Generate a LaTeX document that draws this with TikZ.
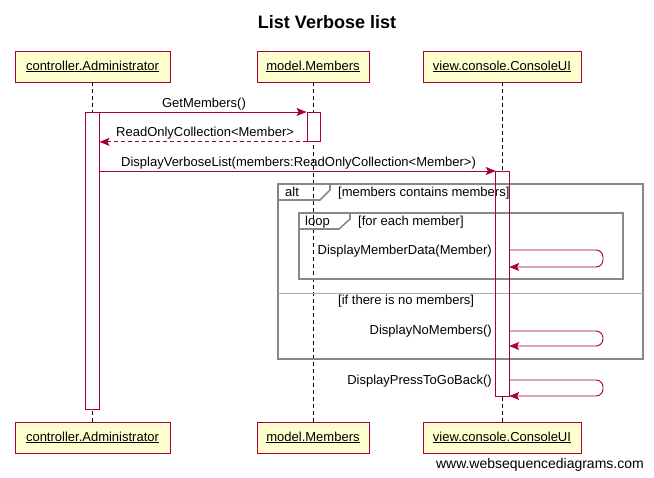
\documentclass[tikz,border=0pt]{standalone}
\usepackage{fontspec}
\setmainfont{Liberation Sans}
\usetikzlibrary{arrows.meta}
\definecolor{crim}{HTML}{A80036}
\definecolor{boxfill}{HTML}{FEFECE}
\definecolor{framec}{HTML}{888888}
\tikzset{
  part/.style={draw=crim, fill=boxfill, line width=0.9pt, minimum height=31pt, inner sep=0pt, font=\fontsize{13}{15}\selectfont},
  life/.style={line width=0.9pt, dash pattern=on 4pt off 3pt},
  act/.style={draw=crim, fill=white, line width=0.9pt, inner sep=0pt},
  actfill/.style={fill=white, inner sep=0pt},
  msg/.style={draw=crim, line width=0.9pt, -{Stealth[length=10pt,width=8pt,inset=2pt]}},
  ret/.style={msg, dash pattern=on 4pt off 3pt},
  lbl/.style={font=\fontsize{13}{15}\selectfont, inner sep=0pt},
  fr/.style={draw=framec, line width=1.6pt},
}
\begin{document}
\begin{tikzpicture}[x=1pt,y=-1pt]
\useasboundingbox (0,0) rectangle (654,478);
% title
\node[font=\fontsize{18}{20}\selectfont\bfseries, anchor=base, inner sep=0pt] (title) at (327,29) {List Verbose list};
% participants
\node[part, minimum width=155pt] (a1) at (92.5,66.5) {\underline{controller.Administrator}};
\node[part, minimum width=112pt] (m1) at (313,66.5) {\underline{model.Members}};
\node[part, minimum width=158pt] (c1) at (502,66.5) {\underline{view.console.ConsoleUI}};
\node[part, minimum width=155pt] (a2) at (92.5,437.5) {\underline{controller.Administrator}};
\node[part, minimum width=112pt] (m2) at (313,437.5) {\underline{model.Members}};
\node[part, minimum width=158pt] (c2) at (502,437.5) {\underline{view.console.ConsoleUI}};
% lifelines
\draw[life] (92,82) -- (92,422);
\draw[life] (m1.south) -- (m2.north);
\draw[life] (c1.south) -- (c2.north);
% activations
\node[act, minimum width=14pt, minimum height=297pt, anchor=north] (aa) at (92,112) {};
\node[act, minimum width=13pt, minimum height=29pt, anchor=north] (ma) at (313.5,112) {};
\node[actfill, minimum width=13pt, minimum height=225pt, anchor=north] (ca) at (502.5,171) {};
% frames
\draw[fr] (278,184) rectangle (643,359);
\draw[fr] (278,200) -- (320,200) -- (330,190) -- (330,184);
\node[lbl, anchor=base west] (altl) at (285,197) {alt};
\node[lbl, anchor=base west] (altg) at (338,197) {[members contains members]};
\draw[draw=framec!70, line width=0.8pt] (278,293) -- (643,293);
\node[lbl, anchor=base west] (altg2) at (338,305) {[if there is no members]};
\draw[fr] (299,213) rectangle (623,279);
\draw[fr] (299,229) -- (339,229) -- (350,219) -- (350,213);
\node[lbl, anchor=base west] (loopl) at (305,226) {loop};
\node[lbl, anchor=base west] (loopg) at (358,226) {[for each member]};
\draw[draw=crim, line width=0.9pt] (ca.north west) rectangle (ca.south east);
% messages
\draw[msg] (aa.north east) -- (ma.north west);
\node[lbl, anchor=base] (l1) at (204,108) {GetMembers()};
\draw[ret] (ma.south west) -- (aa.east |- ma.south west);
\node[lbl, anchor=base west] (l2) at (116,137) {ReadOnlyCollection<Member>};
\draw[msg] (aa.east |- ca.north west) -- (ca.north west);
\node[lbl, anchor=base west] (l3) at (121,167) {DisplayVerboseList(members:ReadOnlyCollection<Member>)};
% self messages
\coordinate (s1a) at (603,250);
\coordinate (s1b) at (603,267);
\draw[msg, rounded corners=7pt] (ca.east |- s1a) -- (s1a) -- (s1b) -- (ca.east |- s1b);
\node[lbl, anchor=base east] (l4) at (492,255) {DisplayMemberData(Member)};
\coordinate (s2a) at (603,331);
\coordinate (s2b) at (603,346);
\draw[msg, rounded corners=7pt] (ca.east |- s2a) -- (s2a) -- (s2b) -- (ca.east |- s2b);
\node[lbl, anchor=base east] (l5) at (492,335) {DisplayNoMembers()};
\coordinate (s3a) at (603,380);
\coordinate (s3b) at (603,396);
\draw[msg, rounded corners=7pt] (ca.east |- s3a) -- (s3a) -- (s3b) -- (ca.east |- s3b);
\node[lbl, anchor=base east] (l6) at (492,385) {DisplayPressToGoBack()};
% footer
\node[font=\fontsize{14}{16}\selectfont, anchor=base east, inner sep=0pt] (foot) at (644,468) {www.websequencediagrams.com};
\end{tikzpicture}
\end{document}
